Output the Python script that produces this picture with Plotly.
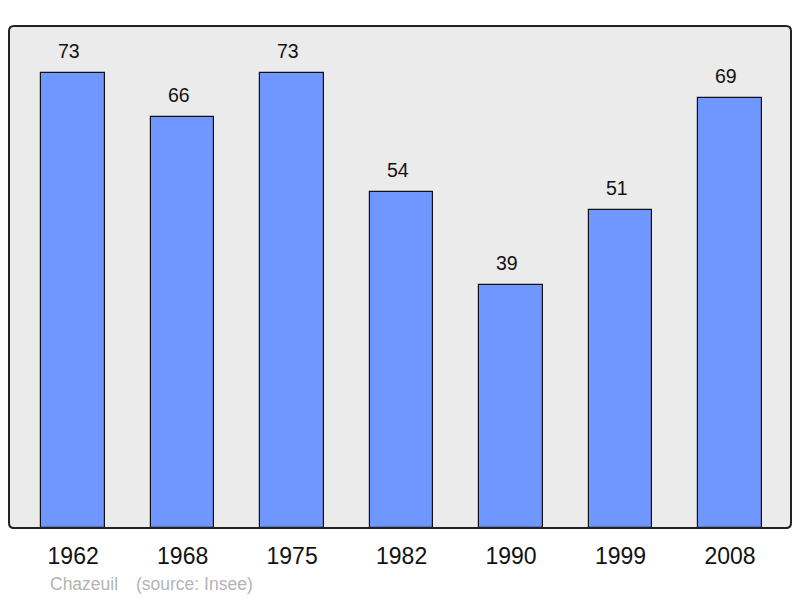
import plotly.graph_objects as go

years = ["1962", "1968", "1975", "1982", "1990", "1999", "2008"]
population = [73, 66, 73, 54, 39, 51, 69]
title_text = "Chazeuil"
source_text = "(source: Insee)"

FONT = "Liberation Sans, Arial"

fig = go.Figure()
fig.add_trace(go.Bar(
    x=years, y=population, width=0.58,
    marker=dict(color="#7096ff", line=dict(color="#111111", width=1.2)),
    hoverinfo="skip",
))

for i, v in enumerate(population):
    fig.add_annotation(x=i, y=v, text=str(v), showarrow=False,
                       yanchor="bottom", yshift=9, xshift=-4,
                       font=dict(family=FONT, size=19.5, color="#111111"))

# rounded frame
L, R, T, B = 0.0, 1.0, 1.0, 0.0
rx, ry = 5 / 782, 5 / 502
path = (f"M {L+rx},{B} L {R-rx},{B} Q {R},{B} {R},{B+ry} L {R},{T-ry} Q {R},{T} {R-rx},{T} "
        f"L {L+rx},{T} Q {L},{T} {L},{T-ry} L {L},{B+ry} Q {L},{B} {L+rx},{B} Z")
fig.add_shape(type="path", path=path, xref="paper", yref="paper",
              line=dict(color="#222222", width=2), layer="above")

fig.add_annotation(xref="paper", yref="paper", x=(48 - 9) / 782, y=-(584 - 528) / 502,
                   xanchor="left", yanchor="middle", showarrow=False, text=title_text,
                   font=dict(family=FONT, size=17.5, color="#b4b4b4"))
fig.add_annotation(xref="paper", yref="paper", x=(134 - 9) / 782, y=-(584 - 528) / 502,
                   xanchor="left", yanchor="middle", showarrow=False, text=source_text,
                   font=dict(family=FONT, size=17.5, color="#b4b4b4"))

fig.update_layout(
    width=800, height=598,
    margin=dict(l=9, r=9, t=26, b=70),
    paper_bgcolor="white", plot_bgcolor="#ebebeb",
    showlegend=False, bargap=0,
    xaxis=dict(type="category", range=[-0.586, 6.557], showgrid=False, zeroline=False,
               showline=False, ticks="", ticklabelstandoff=12,
               tickfont=dict(family=FONT, size=23, color="#111111")),
    yaxis=dict(range=[0, 80.6], showgrid=False, zeroline=False, showline=False,
               showticklabels=False, ticks=""),
)

fig.write_html("out.html", config={"displayModeBar": False},
               post_script="document.body.style.margin='0';document.body.style.overflow='hidden';")
